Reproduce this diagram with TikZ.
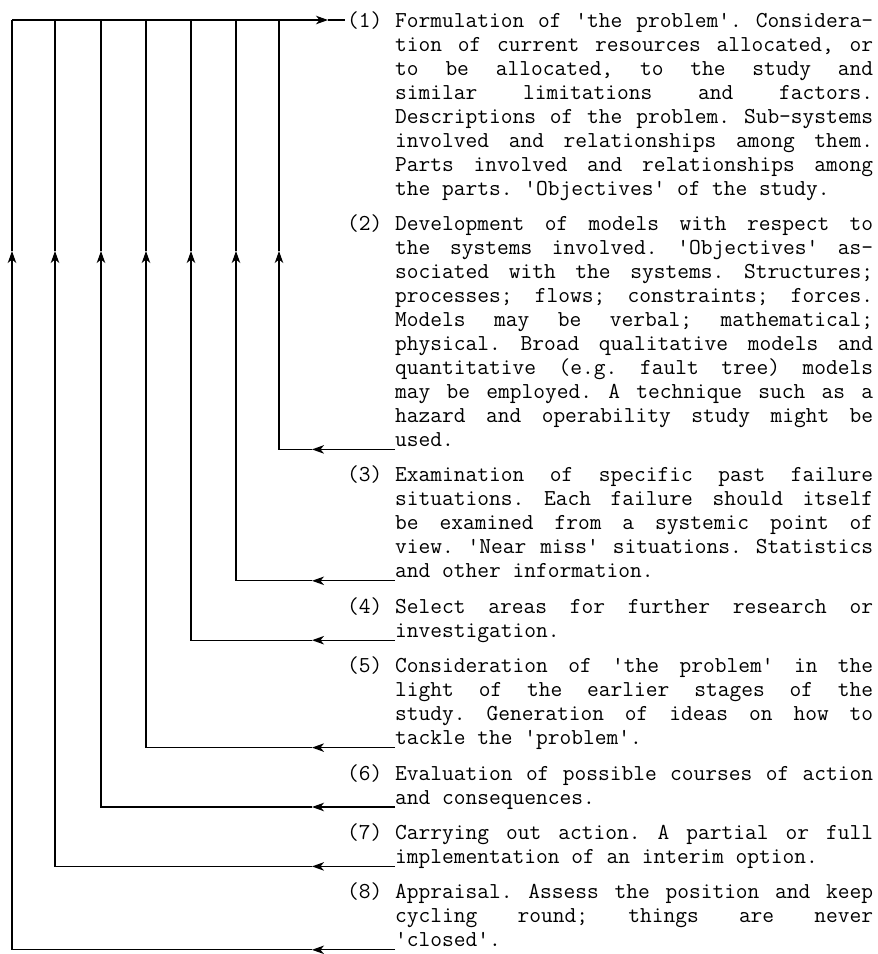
\documentclass[tikz,border=0pt]{standalone}
\usepackage{fontspec}
\usetikzlibrary{arrows.meta}
\newcommand\jl[1]{\hbox to 478pt{\spaceskip=\fontdimen2\font plus 1fil\relax #1}}
\newcommand\lastline[1]{\hbox{#1}}
\newcommand\para[1]{\vtop{\lineskiplimit=-1000pt\baselineskip=24pt #1}}
\tikzset{
  txt/.style={inner sep=0pt, anchor=base west, font=\fontsize{22.8}{24}\selectfont\ttfamily\frenchspacing},
  conn/.style={line width=1.3pt},
  arr/.style={conn, -{Stealth[length=12pt,width=8.5pt,inset=3.5pt]}}
}
\begin{document}
\begin{tikzpicture}[x=1pt,y=-1pt]
\useasboundingbox (0,0) rectangle (878,954);
% labels
\node[txt] (l1) at (347,27)    {(1)};
\node[txt] (l2) at (347,230.4) {(2)};
\node[txt] (l3) at (347,481.8) {(3)};
\node[txt] (l4) at (347,613.2) {(4)};
\node[txt] (l5) at (347,672.6) {(5)};
\node[txt] (l6) at (347,780)   {(6)};
\node[txt] (l7) at (347,839.4) {(7)};
\node[txt] (l8) at (347,898.8) {(8)};
% texts
\node[txt] (t1) at (395,27) {\para{%
\jl{Formulation of 'the problem'. Considera-}
\jl{tion of current resources allocated, or}
\jl{to be allocated, to the study and}
\jl{similar limitations and factors.}
\jl{Descriptions of the problem. Sub-systems}
\jl{involved and relationships among them.}
\jl{Parts involved and relationships among}
\lastline{the parts. 'Objectives' of the study.}}};
\node[txt] (t2) at (395,230.4) {\para{%
\jl{Development of models with respect to}
\jl{the systems involved. 'Objectives' as-}
\jl{sociated with the systems. Structures;}
\jl{processes; flows; constraints; forces.}
\jl{Models may be verbal; mathematical;}
\jl{physical. Broad qualitative models and}
\jl{quantitative (e.g. fault tree) models}
\jl{may be employed. A technique such as a}
\jl{hazard and operability study might be}
\lastline{used.}}};
\node[txt] (t3) at (395,481.8) {\para{%
\jl{Examination of specific past failure}
\jl{situations. Each failure should itself}
\jl{be examined from a systemic point of}
\jl{view. 'Near miss' situations. Statistics}
\lastline{and other information.}}};
\node[txt] (t4) at (395,613.2) {\para{%
\jl{Select areas for further research or}
\lastline{investigation.}}};
\node[txt] (t5) at (395,672.6) {\para{%
\jl{Consideration of 'the problem' in the}
\jl{light of the earlier stages of the}
\jl{study. Generation of ideas on how to}
\lastline{tackle the 'problem'.}}};
\node[txt] (t6) at (395,780) {\para{%
\jl{Evaluation of possible courses of action}
\lastline{and consequences.}}};
\node[txt] (t7) at (395,839.4) {\para{%
\jl{Carrying out action. A partial or full}
\lastline{implementation of an interim option.}}};
\node[txt] (t8) at (395,898.8) {\para{%
\jl{Appraisal. Assess the position and keep}
\jl{cycling round; things are never}
\lastline{'closed'.}}};
% connectors
\foreach \n/\x/\y in {2/279/449.4, 3/236/580.8, 4/191/640.2, 5/146/747.6, 6/101/807, 7/55/866.4, 8/12/949.8}{
  \coordinate (s\n) at (395,\y);
  \coordinate (h\n) at (312,\y);
  \coordinate (c\n) at (\x,\y);
  \coordinate (v\n) at (\x,251);
  \coordinate (u\n) at (\x,20);
  \draw[arr] (s\n) -- (h\n);
  \draw[arr] (h\n) -- (c\n) -- (v\n);
  \draw[conn] (v\n) -- (u\n);
}
\coordinate (a1) at (328,20);
\coordinate (e1) at (345,20);
\draw[arr] (u8) -- (a1);
\draw[conn] (a1) -- (e1);
\end{tikzpicture}
\end{document}
